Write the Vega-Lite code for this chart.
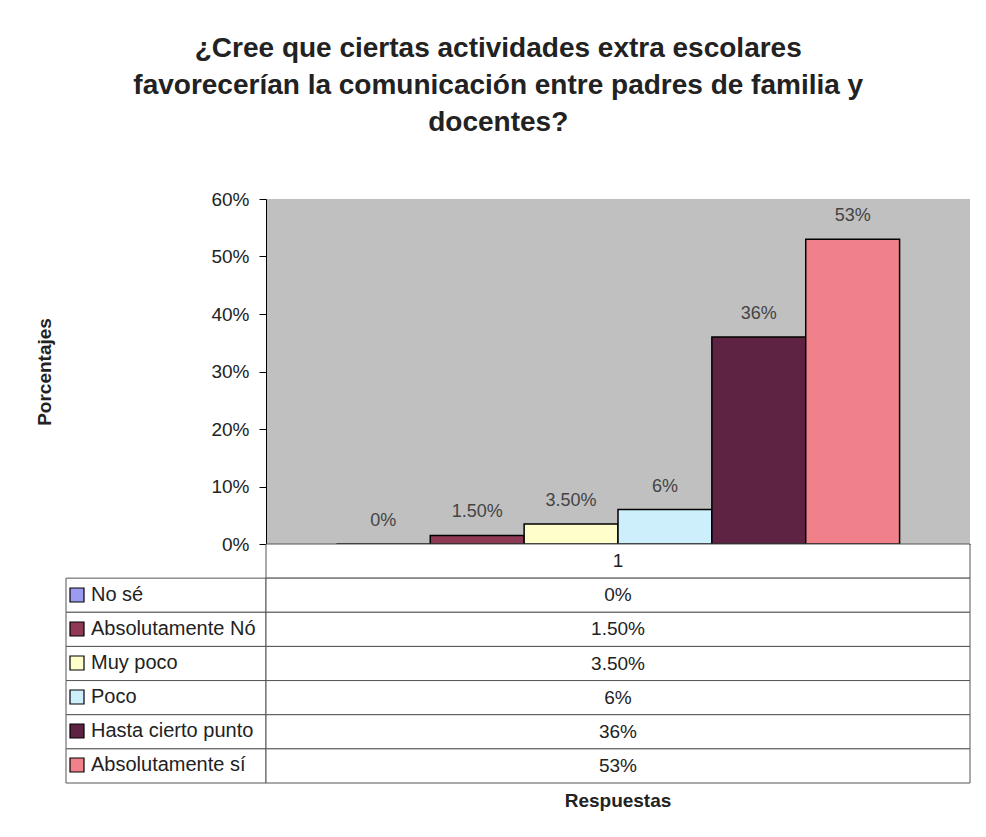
{
  "$schema": "https://vega.github.io/schema/vega-lite/v6.json",
  "datasets": {
    "respuestas": [
      {"categoria": "1", "serie": "No sé", "valor": 0, "etiqueta": "0%"},
      {"categoria": "1", "serie": "Absolutamente Nó", "valor": 0.015, "etiqueta": "1.50%"},
      {"categoria": "1", "serie": "Muy poco", "valor": 0.035, "etiqueta": "3.50%"},
      {"categoria": "1", "serie": "Poco", "valor": 0.06, "etiqueta": "6%"},
      {"categoria": "1", "serie": "Hasta cierto punto", "valor": 0.36, "etiqueta": "36%"},
      {"categoria": "1", "serie": "Absolutamente sí", "valor": 0.53, "etiqueta": "53%"}
    ]
  },
  "title": {
    "text": ["¿Cree que ciertas actividades extra escolares", "favorecerían la comunicación entre padres de familia y", "docentes?"],
    "fontSize": 28,
    "fontWeight": "bold",
    "lineHeight": 37,
    "anchor": "middle",
    "frame": "bounds",
    "dx": -5,
    "offset": 53,
    "color": "#222222"
  },
  "padding": {"left": 35, "top": 35, "right": 15, "bottom": 10},
  "columns": 2,
  "spacing": 0,
  "bounds": "flush",
  "config": {
    "font": "Liberation Sans",
    "view": {"stroke": null}
  },
  "concat": [
    {
      "width": 200,
      "height": 345,
      "data": {"name": "respuestas"},
      "mark": {"type": "text"},
      "encoding": {"text": {"value": ""}}
    },
    {
      "width": 704,
      "height": 345,
      "data": {"name": "respuestas"},
      "view": {"fill": "#c0c0c0", "stroke": null},
      "encoding": {
        "x": {
          "field": "categoria",
          "type": "nominal",
          "scale": {"paddingInner": 0, "paddingOuter": 0.125},
          "axis": {"labels": false, "ticks": false, "title": null, "domainColor": "black", "domainWidth": 1}
        },
        "xOffset": {
          "field": "serie",
          "type": "nominal",
          "scale": {
            "domain": ["No sé", "Absolutamente Nó", "Muy poco", "Poco", "Hasta cierto punto", "Absolutamente sí"],
            "paddingInner": 0,
            "paddingOuter": 0
          }
        },
        "y": {
          "field": "valor",
          "type": "quantitative",
          "scale": {"domain": [0, 0.6], "nice": false},
          "axis": {
            "format": ".0%",
            "values": [0, 0.1, 0.2, 0.3, 0.4, 0.5, 0.6],
            "grid": false,
            "tickSize": 7,
            "tickColor": "black",
            "domainColor": "black",
            "labelPadding": 10,
            "labelFontSize": 19,
            "labelColor": "#222222",
            "title": "Porcentajes",
            "titleFontSize": 19,
            "titleFontWeight": "bold",
            "titleColor": "#222222",
            "titlePadding": 156
          }
        }
      },
      "layer": [
        {
          "mark": {"type": "bar", "stroke": "black", "strokeWidth": 1.5},
          "encoding": {
            "color": {
              "field": "serie",
              "type": "nominal",
              "scale": {
                "domain": ["No sé", "Absolutamente Nó", "Muy poco", "Poco", "Hasta cierto punto", "Absolutamente sí"],
                "range": ["#9b9bf0", "#8e3a55", "#ffffcc", "#cdeffc", "#5e2242", "#f0808a"]
              },
              "legend": {
                "orient": "none",
                "legendX": 1,
                "legendY": 386,
                "title": null,
                "padding": 0,
                "symbolType": "square",
                "symbolSize": 196,
                "symbolStrokeColor": "black",
                "symbolStrokeWidth": 1.2,
                "symbolOpacity": 1,
                "labelFontSize": 20,
                "labelColor": "#222222",
                "labelOffset": 4,
                "labelLimit": 300,
                "rowPadding": 14
              }
            }
          }
        },
        {
          "mark": {"type": "text", "baseline": "bottom", "dy": -14, "fontSize": 18, "color": "#444444"},
          "encoding": {"text": {"field": "etiqueta"}}
        }
      ]
    },
    {
      "width": 200,
      "height": 239,
      "data": {"name": "respuestas"},
      "mark": {"type": "rect", "fill": "white", "stroke": "#555555", "strokeWidth": 1},
      "encoding": {
        "y": {
          "field": "serie",
          "type": "nominal",
          "scale": {"domain": ["1", "No sé", "Absolutamente Nó", "Muy poco", "Poco", "Hasta cierto punto", "Absolutamente sí"], "paddingInner": 0, "paddingOuter": 0},
          "axis": null
        }
      }
    },
    {
      "width": 704,
      "height": 239,
      "data": {"name": "respuestas"},
      "title": {"text": "Respuestas", "orient": "bottom", "fontSize": 19, "fontWeight": "bold", "offset": 8, "color": "#222222"},
      "layer": [
        {
          "transform": [{"aggregate": [], "groupby": ["categoria"]}],
          "mark": {"type": "rect", "fill": "white", "stroke": "#555555", "strokeWidth": 1},
          "encoding": {
            "y": {
              "field": "categoria",
              "type": "nominal",
              "scale": {"domain": ["1", "No sé", "Absolutamente Nó", "Muy poco", "Poco", "Hasta cierto punto", "Absolutamente sí"], "paddingInner": 0, "paddingOuter": 0},
              "axis": null
            }
          }
        },
        {
          "transform": [{"aggregate": [], "groupby": ["categoria"]}],
          "mark": {"type": "text", "fontSize": 19, "color": "#222222"},
          "encoding": {
            "y": {"field": "categoria", "type": "nominal", "axis": null},
            "text": {"field": "categoria"}
          }
        },
        {
          "mark": {"type": "rect", "fill": "white", "stroke": "#555555", "strokeWidth": 1},
          "encoding": {
            "y": {"field": "serie", "type": "nominal", "axis": null}
          }
        },
        {
          "mark": {"type": "text", "fontSize": 19, "color": "#222222"},
          "encoding": {
            "y": {"field": "serie", "type": "nominal", "axis": null},
            "text": {"field": "etiqueta"}
          }
        }
      ]
    }
  ]
}
